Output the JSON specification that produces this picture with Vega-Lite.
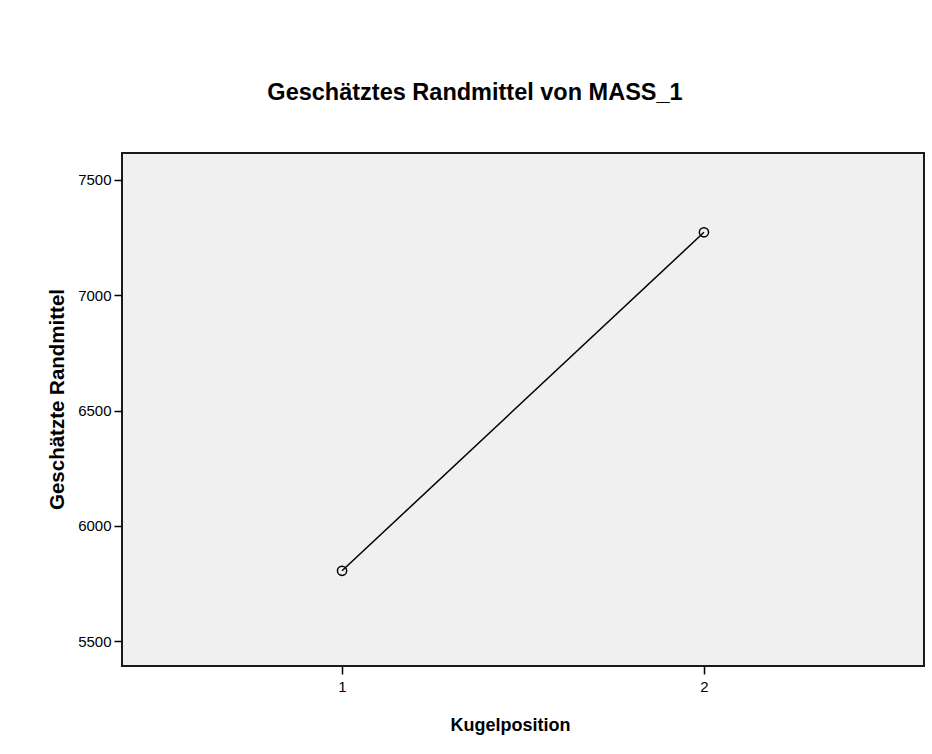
{
  "$schema": "https://vega.github.io/schema/vega-lite/v6.json",
  "width": 802,
  "height": 513,
  "autosize": {"type": "none"},
  "padding": {"left": 122, "top": 153, "right": 8, "bottom": 88},
  "background": "white",
  "title": {
    "text": "Geschätztes Randmittel von MASS_1",
    "font": "Liberation Sans",
    "fontSize": 23.5,
    "fontWeight": "bold",
    "color": "black",
    "anchor": "middle",
    "dx": -48,
    "baseline": "alphabetic",
    "offset": 30
  },
  "data": {
    "values": [
      {"Kugelposition": 1, "Randmittel": 5805},
      {"Kugelposition": 2, "Randmittel": 7273}
    ]
  },
  "encoding": {
    "x": {
      "field": "Kugelposition",
      "type": "quantitative",
      "scale": {"domain": [0.392, 2.608], "nice": false, "zero": false},
      "axis": {
        "title": "Kugelposition",
        "values": [1, 2],
        "format": "d",
        "grid": false,
        "domain": false,
        "labelFont": "Liberation Sans",
        "labelFontSize": 15,
        "labelColor": "black",
        "labelPadding": 5,
        "titleFontSize": 18,
        "titleX": 388,
        "titleY": 64,
        "titleBaseline": "alphabetic",
        "titleAnchor": "middle"
      }
    },
    "y": {
      "field": "Randmittel",
      "type": "quantitative",
      "scale": {"domain": [5392, 7617], "nice": false, "zero": false},
      "axis": {
        "title": "Geschätzte Randmittel",
        "values": [5500, 6000, 6500, 7000, 7500],
        "format": "d",
        "grid": false,
        "domain": false,
        "labelFont": "Liberation Sans",
        "labelFontSize": 15,
        "labelColor": "black",
        "labelPadding": 3,
        "titleFontSize": 20.5,
        "titleX": -59,
        "titleY": 246,
        "titleAngle": -90,
        "titleAlign": "center",
        "titleBaseline": "alphabetic"
      }
    }
  },
  "layer": [
    {"mark": {"type": "line", "color": "black", "strokeWidth": 1.5}},
    {"mark": {"type": "point", "shape": "circle", "filled": false, "stroke": "black", "strokeWidth": 1.5, "size": 85, "opacity": 1}}
  ],
  "config": {
    "view": {"fill": "#f0f0f0", "stroke": "#1a1a1a", "strokeWidth": 2},
    "axis": {
      "titleFont": "Liberation Sans",
      "titleFontWeight": "bold",
      "titleColor": "black",
      "tickColor": "black",
      "tickSize": 8,
      "tickWidth": 1.5
    }
  }
}
